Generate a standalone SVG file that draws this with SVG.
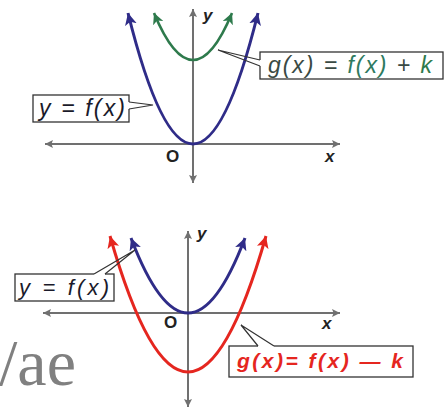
<svg xmlns="http://www.w3.org/2000/svg" width="446" height="413" viewBox="0 0 446 413">
  <style>
    .axis { stroke: #707070; stroke-width: 2; fill: none; marker-start: url(#ax); marker-end: url(#ax); }
    .blue { stroke: #2f2c88; stroke-width: 3; fill: none; marker-start: url(#ab); marker-end: url(#ab); }
    .green { stroke: #2e7a4c; stroke-width: 2.6; fill: none; marker-start: url(#ag); marker-end: url(#ag); }
    .red { stroke: #e5261f; stroke-width: 3; fill: none; marker-start: url(#ar); marker-end: url(#ar); }
    .box { fill: #ffffff; stroke: #333333; stroke-width: 1.3; }
    .call { stroke: #333333; stroke-width: 1.2; fill: none; }
    .gap { stroke: #ffffff; stroke-width: 2; }
    .lbl { font-family: "Liberation Sans", Arial, sans-serif; font-style: italic; }
    .axl { font-family: "Liberation Sans", Arial, sans-serif; font-style: italic; font-weight: bold; fill: #222222; font-size: 17px; }
    .o { font-family: "Liberation Sans", Arial, sans-serif; font-weight: bold; fill: #222222; font-size: 17px; }
  </style>
  <defs>
    <marker id="ax" viewBox="0 0 10 10" refX="10" refY="5" markerWidth="8" markerHeight="8" markerUnits="userSpaceOnUse" orient="auto-start-reverse">
      <path d="M0,0 L10,5 L0,10 L2,5 z" fill="#707070"/>
    </marker>
    <marker id="ab" viewBox="0 0 12 12" refX="12" refY="6" markerWidth="12" markerHeight="12" markerUnits="userSpaceOnUse" orient="auto-start-reverse">
      <path d="M0,0 L12,6 L0,12 L3,6 z" fill="#2f2c88"/>
    </marker>
    <marker id="ag" viewBox="0 0 12 12" refX="12" refY="6" markerWidth="11" markerHeight="11" markerUnits="userSpaceOnUse" orient="auto-start-reverse">
      <path d="M0,0 L12,6 L0,12 L3,6 z" fill="#2e7a4c"/>
    </marker>
    <marker id="ar" viewBox="0 0 12 12" refX="12" refY="6" markerWidth="12" markerHeight="12" markerUnits="userSpaceOnUse" orient="auto-start-reverse">
      <path d="M0,0 L12,6 L0,12 L3,6 z" fill="#e5261f"/>
    </marker>
  </defs>

  <!-- Top graph -->
  <g id="top-axes">
    <path class="axis" d="M45,144 L340,144"/>
    <path class="axis" d="M193,183 L193,9"/>
    <text class="axl" x="203" y="21">y</text>
    <text class="o" x="166" y="162">O</text>
    <text class="axl" x="325" y="162" font-size="16">x</text>
  </g>
  <g id="top-f">
    <path class="blue" d="M128,13 Q193,275 258,13"/>
  </g>
  <g id="top-g">
    <path class="green" d="M154,13 Q193,107 232,13"/>
  </g>
  <g id="top-f-label">
    <rect class="box" x="33" y="95" width="96" height="27"/>
    <text class="lbl" x="39" y="116" font-size="23" fill="#1a1a2a" textLength="86" lengthAdjust="spacing">y = f(x)</text>
  </g>
  <g id="top-g-label">
    <rect class="box" x="260" y="52" width="183" height="27"/>
    <text class="lbl" x="268" y="73" font-size="23" textLength="164" lengthAdjust="spacing"><tspan fill="#3a4a44">g(x) = </tspan><tspan fill="#2e7a60">f(x)</tspan><tspan fill="#3a4a44"> + </tspan><tspan fill="#2e7a4c">k</tspan></text>
  </g>

  <!-- Bottom graph -->
  <g id="bottom-axes">
    <path class="axis" d="M43,313 L340,313"/>
    <path class="axis" d="M188,407 L188,231"/>
    <text class="axl" x="197" y="239">y</text>
    <text class="o" x="164" y="328">O</text>
    <text class="axl" x="322" y="329" font-size="16">x</text>
  </g>
  <g id="bottom-g">
    <path class="red" d="M110,236 Q188,508 266,236"/>
  </g>
  <g id="bottom-f">
    <path class="blue" d="M131,238 Q188,388 245,238"/>
  </g>
  <g id="bottom-f-label">
    <rect class="box" x="15" y="274" width="99" height="27"/>
    <text class="lbl" x="19" y="295" font-size="22" fill="#1a1a2a" textLength="90" lengthAdjust="spacing">y = f(x)</text>
  </g>
  <g id="bottom-g-label">
    <rect class="box" x="229" y="346" width="184" height="31"/>
    <text class="lbl" x="237" y="368" font-size="21" font-weight="bold" fill="#e5261f" textLength="166" lengthAdjust="spacing">g(x)= f(x) — k</text>
  </g>

  <g id="connectors">
    <line class="gap" x1="129" y1="102" x2="129" y2="109"/>
    <path class="call" d="M129,102 L153,105 L129,109"/>
    <line class="gap" x1="260" y1="60" x2="260" y2="66"/>
    <path class="call" d="M260,60 L218,50 L260,66"/>
    <line class="gap" x1="94" y1="274" x2="105" y2="274"/>
    <path class="call" d="M94,274 L135,250 L105,274"/>
    <line class="gap" x1="258" y1="346" x2="274" y2="346"/>
    <path class="call" d="M258,346 L241,325 L274,346"/>
  </g>

  <text x="-1" y="385" font-family="'Liberation Serif', 'Times New Roman', serif" font-size="66" fill="#808080">/ae</text>
</svg>
